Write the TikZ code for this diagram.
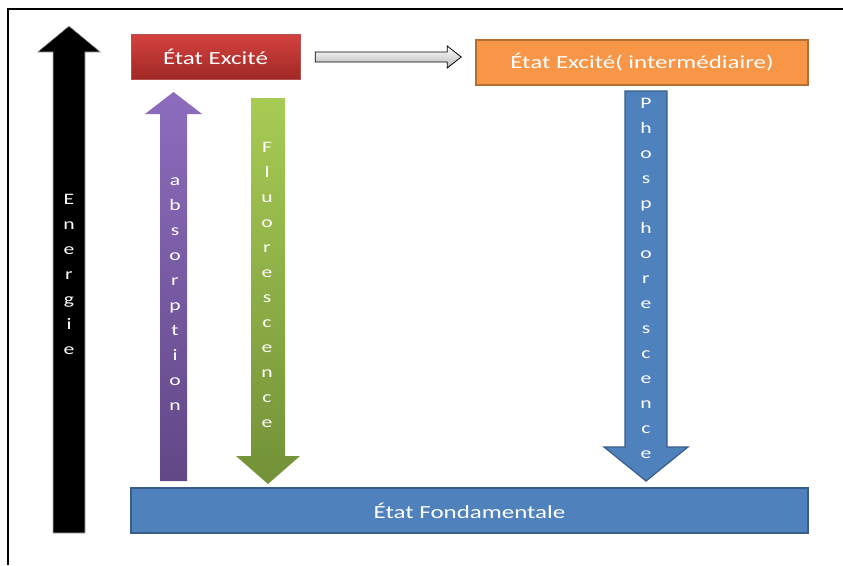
\documentclass[tikz,border=0pt]{standalone}
\usepackage{fontspec}
\setmainfont{Carlito}[FakeStretch=1.35]
\usetikzlibrary{calc}
\definecolor{rougeH}{RGB}{212,66,62}
\definecolor{rougeB}{RGB}{160,40,38}
\definecolor{orange}{RGB}{247,150,70}
\definecolor{orangeB}{RGB}{182,109,49}
\definecolor{bleu}{RGB}{79,129,189}
\definecolor{bleuB}{RGB}{56,93,138}
\definecolor{violetH}{RGB}{141,108,190}
\definecolor{violetB}{RGB}{96,72,134}
\definecolor{vertH}{RGB}{168,203,84}
\definecolor{vertB}{RGB}{114,145,56}
\tikzset{
    etat/.style={minimum height=45pt, text=white, font=\fontsize{18.5}{22}\selectfont}, % boite d'un niveau
    lettres/.style={align=center, text=white, font=\fontsize{16}{25}\selectfont}, % texte ecrit lettre par lettre
}
% fleche pleine verticale : style, base, pointe, demi-corps, demi-tete, longueur de tete
\newcommand{\vfleche}[6]{%
    \path[#1] let \p1=(#2), \p2=(#3), \p3=($(#3)!#6!(#2)$) in
        ({\x1-#4},\y1) -- ({\x1-#4},\y3) -- ({\x1-#5},\y3) -- (\x2,\y2)
        -- ({\x1+#5},\y3) -- ({\x1+#4},\y3) -- ({\x1+#4},\y1) -- cycle;}

\begin{document}
\begin{tikzpicture}[x=1pt, y=-1pt]
    \useasboundingbox (0,0) rectangle (843,565);
    \draw[line width=1.5pt] (8,565) -- (8,9) -- (843,9);

    \node[etat, minimum width=169pt, top color=rougeH, bottom color=rougeB, draw=rougeB!80] (excite) at (215.5,57) {État Excité};
    \node[etat, minimum width=332pt, fill=orange, draw=orangeB, line width=1.5pt] (inter) at (642,62.5) {État Excité( intermédiaire)};
    \node[etat, minimum width=677pt, fill=bleu, draw=bleuB, line width=1.5pt] (fond) at (469.5,510.5) {État Fondamentale};

    \coordinate (nrj-bas) at (69,533);
    \coordinate (nrj-haut) at (69,26);
    \coordinate (abs-bas) at (173.5,481);
    \coordinate (abs-haut) at (173.5,92);
    \coordinate (flu-haut) at (268,98);
    \coordinate (flu-bas) at (268,484);
    \coordinate (pho-haut) at (646,91);
    \coordinate (pho-bas) at (646,481);

    \vfleche{fill=black, draw=gray!60, line width=0.6pt}{nrj-bas}{nrj-haut}{16pt}{31.5pt}{26pt}
    \vfleche{top color=violetH, bottom color=violetB}{abs-bas}{abs-haut}{13.5pt}{28.5pt}{22pt}
    \vfleche{top color=vertH, bottom color=vertB}{flu-haut}{flu-bas}{17pt}{32pt}{28pt}
    \vfleche{fill=bleu, draw=bleuB, line width=1.2pt}{pho-haut}{pho-bas}{21pt}{42pt}{34pt}

    % passage vers l'etat intermediaire
    \path[top color=white, bottom color=gray!55, draw=black, line width=0.8pt]
        let \p1=($(excite.east)+(15,0)$), \p2=($(inter.west)+(-14,0)$) in
        (\x1,\y1+5pt) -- (\x2-14pt,\y1+5pt) -- (\x2-14pt,\y1+11pt) -- (\x2,\y1)
        -- (\x2-14pt,\y1-11pt) -- (\x2-14pt,\y1-5pt) -- (\x1,\y1-5pt) -- cycle;

    \node[lettres] (nrj-txt) at (69,274) {E\\n\\e\\r\\g\\i\\e};
    \node[lettres] (abs-txt) at (175,294) {a\\b\\s\\o\\r\\p\\t\\i\\o\\n};
    \node[lettres] (flu-txt) at (267,285) {F\\l\\u\\o\\r\\e\\s\\c\\e\\n\\c\\e};
    \node[lettres] (pho-txt) at (646,278) {P\\h\\o\\s\\p\\h\\o\\r\\e\\s\\c\\e\\n\\c\\e};
\end{tikzpicture}
\end{document}
